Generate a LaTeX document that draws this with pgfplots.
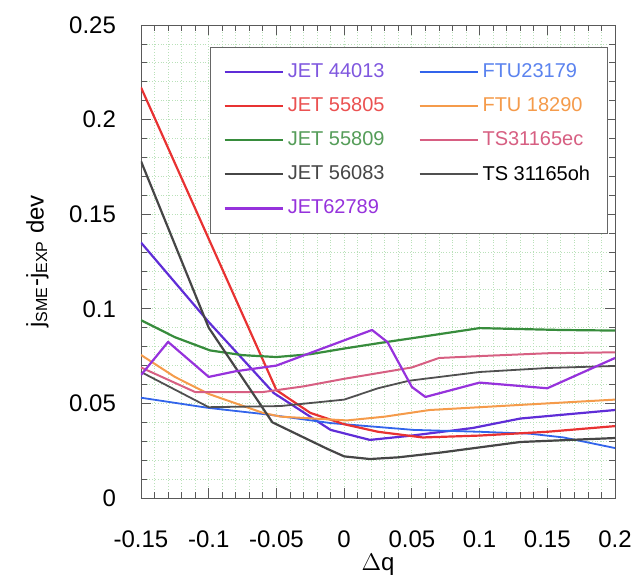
\documentclass[border=0pt]{standalone}
\usepackage{pgfplots}
\pgfplotsset{compat=1.18}
\usepackage{fontspec}
\setmainfont{Liberation Sans}

\definecolor{cJa}{RGB}{95,45,215}
\definecolor{cJb}{RGB}{232,50,50}
\definecolor{cJc}{RGB}{55,140,60}
\definecolor{cJd}{RGB}{70,70,70}
\definecolor{cJe}{RGB}{150,50,220}
\definecolor{cFa}{RGB}{50,100,235}
\definecolor{cFb}{RGB}{245,155,75}
\definecolor{cTa}{RGB}{215,95,130}
\definecolor{cTb}{RGB}{80,80,80}
\definecolor{gridc}{RGB}{185,225,185}

\begin{document}
\begin{tikzpicture}
\begin{axis}[
  scale only axis,
  width=237pt, height=236.5pt,
  xmin=-0.15, xmax=0.2, ymin=0, ymax=0.25,
  xtick={-0.15,-0.1,-0.05,0,0.05,0.1,0.15,0.2},
  xticklabels={-0.15,-0.1,-0.05,0,0.05,0.1,0.15,0.2},
  ytick={0,0.05,0.1,0.15,0.2,0.25},
  yticklabels={0,0.05,0.1,0.15,0.2,0.25},
  minor x tick num=4, minor y tick num=4,
  tick align=inside,
  major tick length=5pt, minor tick length=3pt,
  every tick/.style={gray!70!black},
  axis line style={gray!70!black},
  grid=both,
  major grid style={gridc, densely dotted},
  minor grid style={gridc, densely dotted},
  tick label style={font=\fontsize{12}{14}\selectfont},
  xticklabel style={yshift=-13pt},
  yticklabel style={xshift=-9pt},
  xlabel={$\Delta$q},
  xlabel style={font=\fontsize{12}{14}\selectfont, yshift=4pt},
  ylabel={j\textsubscript{SME}-j\textsubscript{EXP} dev},
  ylabel style={font=\fontsize{12}{14}\selectfont, yshift=3.5pt},
  legend columns=2,
  legend cell align=left,
  legend image code/.code={\draw[#1] (0pt,0pt) -- (29pt,0pt);},
  legend style={at={(0.146,0.953)}, anchor=north west, draw=gray!80!black,
    font=\fontsize{10}{12}\selectfont, row sep=4.5pt, inner xsep=6.5pt, inner ysep=6pt,
    /tikz/column 2/.style={column sep=15pt}},
  every axis plot/.append style={line join=round},
]
\addplot[cJa, line width=1.1pt] coordinates {
 (-0.15,0.135) (-0.1,0.093) (-0.052,0.0555) (-0.01,0.036) (0.019,0.0307)
 (0.05,0.033) (0.095,0.037) (0.13,0.042) (0.2,0.0465)};
\addlegendentry{\textcolor{cJa!80}{JET 44013}}
\addplot[cFa, line width=0.9pt] coordinates {
 (-0.15,0.053) (-0.1,0.0476) (-0.055,0.044) (-0.01,0.0396) (0.051,0.036)
 (0.1,0.035) (0.137,0.034) (0.162,0.032) (0.2,0.0264)};
\addlegendentry{\textcolor{cFa!80}{FTU23179}}
\addplot[cJb, line width=1.1pt] coordinates {
 (-0.15,0.217) (-0.05,0.057) (-0.025,0.045) (0,0.039) (0.025,0.035)
 (0.058,0.032) (0.1,0.033) (0.15,0.035) (0.2,0.038)};
\addlegendentry{\textcolor{cJb!85}{JET 55805}}
\addplot[cFb, line width=1pt] coordinates {
 (-0.15,0.0756) (-0.125,0.064) (-0.1,0.055) (-0.06,0.045) (-0.047,0.043)
 (0.002,0.041) (0.03,0.043) (0.063,0.0465) (0.125,0.049) (0.2,0.052)};
\addlegendentry{\textcolor{cFb}{FTU 18290}}
\addplot[cJc, line width=1.1pt] coordinates {
 (-0.15,0.094) (-0.125,0.085) (-0.099,0.078) (-0.075,0.0755) (-0.05,0.0745)
 (-0.025,0.076) (0,0.079) (0.027,0.082) (0.06,0.0855) (0.1,0.0898)
 (0.16,0.0888) (0.2,0.0885)};
\addlegendentry{\textcolor{cJc!85}{JET 55809}}
\addplot[cTa, line width=1pt] coordinates {
 (-0.15,0.069) (-0.11,0.056) (-0.06,0.056) (-0.03,0.059) (0,0.063)
 (0.05,0.069) (0.07,0.074) (0.1,0.075) (0.15,0.0765) (0.2,0.077)};
\addlegendentry{\textcolor{cTa}{TS31165ec}}
\addplot[cJd, line width=1.1pt] coordinates {
 (-0.15,0.178) (-0.1,0.090) (-0.053,0.040) (-0.0125,0.026) (0,0.022)
 (0.019,0.0206) (0.04,0.0215) (0.071,0.024) (0.13,0.0296) (0.2,0.0317)};
\addlegendentry{\textcolor{cJd}{JET 56083}}
\addplot[cTb, line width=0.9pt] coordinates {
 (-0.15,0.0666) (-0.1,0.048) (-0.047,0.0486) (0,0.052) (0.025,0.058)
 (0.048,0.062) (0.1,0.0666) (0.15,0.0687) (0.2,0.0698)};
\addlegendentry{\textcolor{black}{TS 31165oh}}
\addplot[cJe, line width=1.1pt] coordinates {
 (-0.15,0.065) (-0.13,0.0825) (-0.1,0.064) (-0.08,0.067) (-0.05,0.070)
 (0.0206,0.0888) (0.032,0.0824) (0.05,0.0587) (0.06,0.0534) (0.1,0.061)
 (0.15,0.058) (0.2,0.074)};
\addlegendentry{\textcolor{cJe}{JET62789}}
\end{axis}
\pgfresetboundingbox
\path ([shift={(-70.5pt,-39.5pt)}]current axis.south west)
  rectangle ([shift={(9.5pt,12.5pt)}]current axis.north east);
\end{tikzpicture}
\end{document}
